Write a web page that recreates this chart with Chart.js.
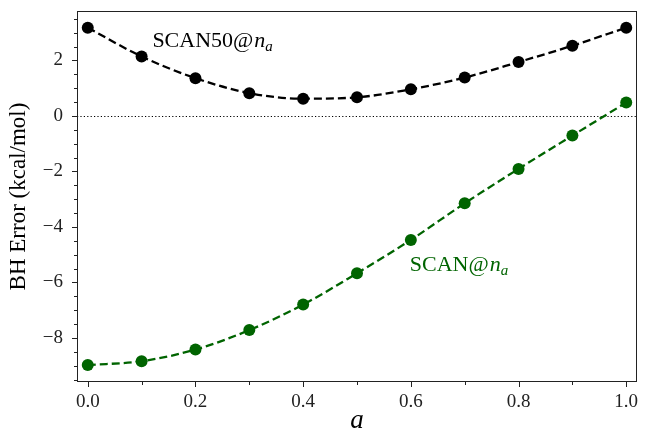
<!DOCTYPE html>
<html>
<head>
<meta charset="utf-8">
<script src="https://cdn.jsdelivr.net/npm/chart.js@4"></script>
<style>
html, body { margin: 0; padding: 0; background: #fff; }
</style>
</head>
<body>
<canvas id="chart" width="650" height="437"></canvas>
<script>
// data
const alphas = [0.0, 0.1, 0.2, 0.3, 0.4, 0.5, 0.6, 0.7, 0.8, 0.9, 1.0];
const scan50 = [3.18, 2.14, 1.36, 0.82, 0.62, 0.67, 0.96, 1.38, 1.94, 2.53, 3.18];
const scan = [-8.98, -8.84, -8.42, -7.72, -6.80, -5.67, -4.47, -3.15, -1.91, -0.71, 0.48];

const xTicks = [0.0, 0.2, 0.4, 0.6, 0.8, 1.0];
const xMinor = [0.1, 0.3, 0.5, 0.7, 0.9];
const yTicks = [-8, -6, -4, -2, 0, 2];
const yMinor = [-9.5, -9, -8.5, -7.5, -7, -6.5, -5.5, -5, -4.5, -3.5, -3, -2.5,
                -1.5, -1, -0.5, 0.5, 1, 1.5, 2.5, 3, 3.5];
const zeroLine = 0;

const serif = '"Liberation Serif", "DejaVu Serif", serif';

// frame, minor/major ticks, zero line and the two text labels
const decor = {
    id: 'decor',
    beforeDatasetsDraw(chart) {
        const { ctx, chartArea: a, scales: { y } } = chart;
        const y0 = Math.round(y.getPixelForValue(zeroLine)) + 0.5;
        ctx.save();
        ctx.strokeStyle = '#000';
        ctx.lineWidth = 1.2;
        ctx.setLineDash([1.2, 2.2]);
        ctx.beginPath();
        ctx.moveTo(a.left, y0);
        ctx.lineTo(a.right, y0);
        ctx.stroke();
        ctx.restore();
    },
    afterDraw(chart) {
        const { ctx, chartArea: a, scales: { x, y } } = chart;
        ctx.save();
        ctx.strokeStyle = '#222';
        ctx.lineWidth = 1;
        ctx.strokeRect(a.left + 0.5, a.top + 0.5, a.right - a.left - 1, a.bottom - a.top - 1);

        ctx.beginPath();
        const tick = (vals, len, horiz) => {
            vals.forEach(v => {
                if (horiz) {
                    const px = Math.round(x.getPixelForValue(v)) + 0.5;
                    ctx.moveTo(px, a.bottom);
                    ctx.lineTo(px, a.bottom + len);
                } else {
                    const py = Math.round(y.getPixelForValue(v)) + 0.5;
                    ctx.moveTo(a.left, py);
                    ctx.lineTo(a.left - len, py);
                }
            });
        };
        tick(xTicks, 5, true);
        tick(xMinor, 3, true);
        tick(yTicks, 5, false);
        tick(yMinor, 3, false);
        ctx.stroke();

        // labels  "NAME@n_a"
        const label = (txt, vx, vy, color) => {
            let px = x.getPixelForValue(vx);
            const py = y.getPixelForValue(vy);
            ctx.fillStyle = color;
            ctx.textBaseline = 'alphabetic';
            ctx.font = '22px ' + serif;
            ctx.fillText(txt, px, py);
            px += ctx.measureText(txt).width + 1;
            ctx.font = 'italic 22px ' + serif;
            ctx.fillText('n', px, py);
            px += ctx.measureText('n').width;
            ctx.font = 'italic 15px ' + serif;
            ctx.fillText('a', px, py + 4);
        };
        label('SCAN50@', 0.12, 2.5, '#000');
        label('SCAN@', 0.598, -5.6, '#006400');
        ctx.restore();
    }
};

const fmt = v => (v < 0 ? '\u2212' : '') + Math.abs(v);

new Chart(document.getElementById('chart'), {
    type: 'line',
    data: {
        datasets: [
            {
                label: 'SCAN50@n_a',
                data: alphas.map((a, i) => ({ x: a, y: scan50[i] })),
                borderColor: '#000',
                backgroundColor: '#000',
                borderWidth: 2.3,
                borderDash: [8, 4],
                pointRadius: 6,
                pointBorderWidth: 0,
                cubicInterpolationMode: 'monotone'
            },
            {
                label: 'SCAN@n_a',
                data: alphas.map((a, i) => ({ x: a, y: scan[i] })),
                borderColor: '#006400',
                backgroundColor: '#006400',
                borderWidth: 2.3,
                borderDash: [8, 4],
                pointRadius: 6,
                pointBorderWidth: 0,
                cubicInterpolationMode: 'monotone'
            }
        ]
    },
    options: {
        responsive: false,
        animation: false,
        layout: { padding: { left: 0, right: 13, top: 11, bottom: 0 } },
        plugins: { legend: { display: false }, tooltip: { enabled: false } },
        scales: {
            x: {
                type: 'linear',
                min: -0.02,
                max: 1.02,
                grid: { display: false, tickLength: 5 },
                border: { display: false },
                afterBuildTicks: s => { s.ticks = xTicks.map(v => ({ value: v })); },
                afterFit: s => { s.height = 55; s.paddingLeft = 0; s.paddingRight = 0; },
                ticks: {
                    color: '#222',
                    padding: 4,
                    maxRotation: 0,
                    font: { family: serif, size: 19 },
                    callback: v => v.toFixed(1)
                },
                title: {
                    display: true,
                    text: 'a',
                    color: '#000',
                    font: { family: serif, size: 27, style: 'italic' },
                    padding: { top: 0, bottom: 0 }
                }
            },
            y: {
                min: -9.59,
                max: 3.78,
                grid: { display: false, tickLength: 5 },
                border: { display: false },
                afterBuildTicks: s => { s.ticks = yTicks.map(v => ({ value: v })); },
                afterFit: s => { s.width = 77; s.paddingTop = 0; s.paddingBottom = 0; },
                ticks: {
                    color: '#222',
                    padding: 9,
                    font: { family: serif, size: 19 },
                    callback: v => fmt(v)
                },
                title: {
                    display: true,
                    text: 'BH Error (kcal/mol)',
                    color: '#000',
                    font: { family: serif, size: 23 },
                    padding: { top: 5, bottom: 0 }
                }
            }
        }
    },
    plugins: [decor]
});
</script>
</body>
</html>
